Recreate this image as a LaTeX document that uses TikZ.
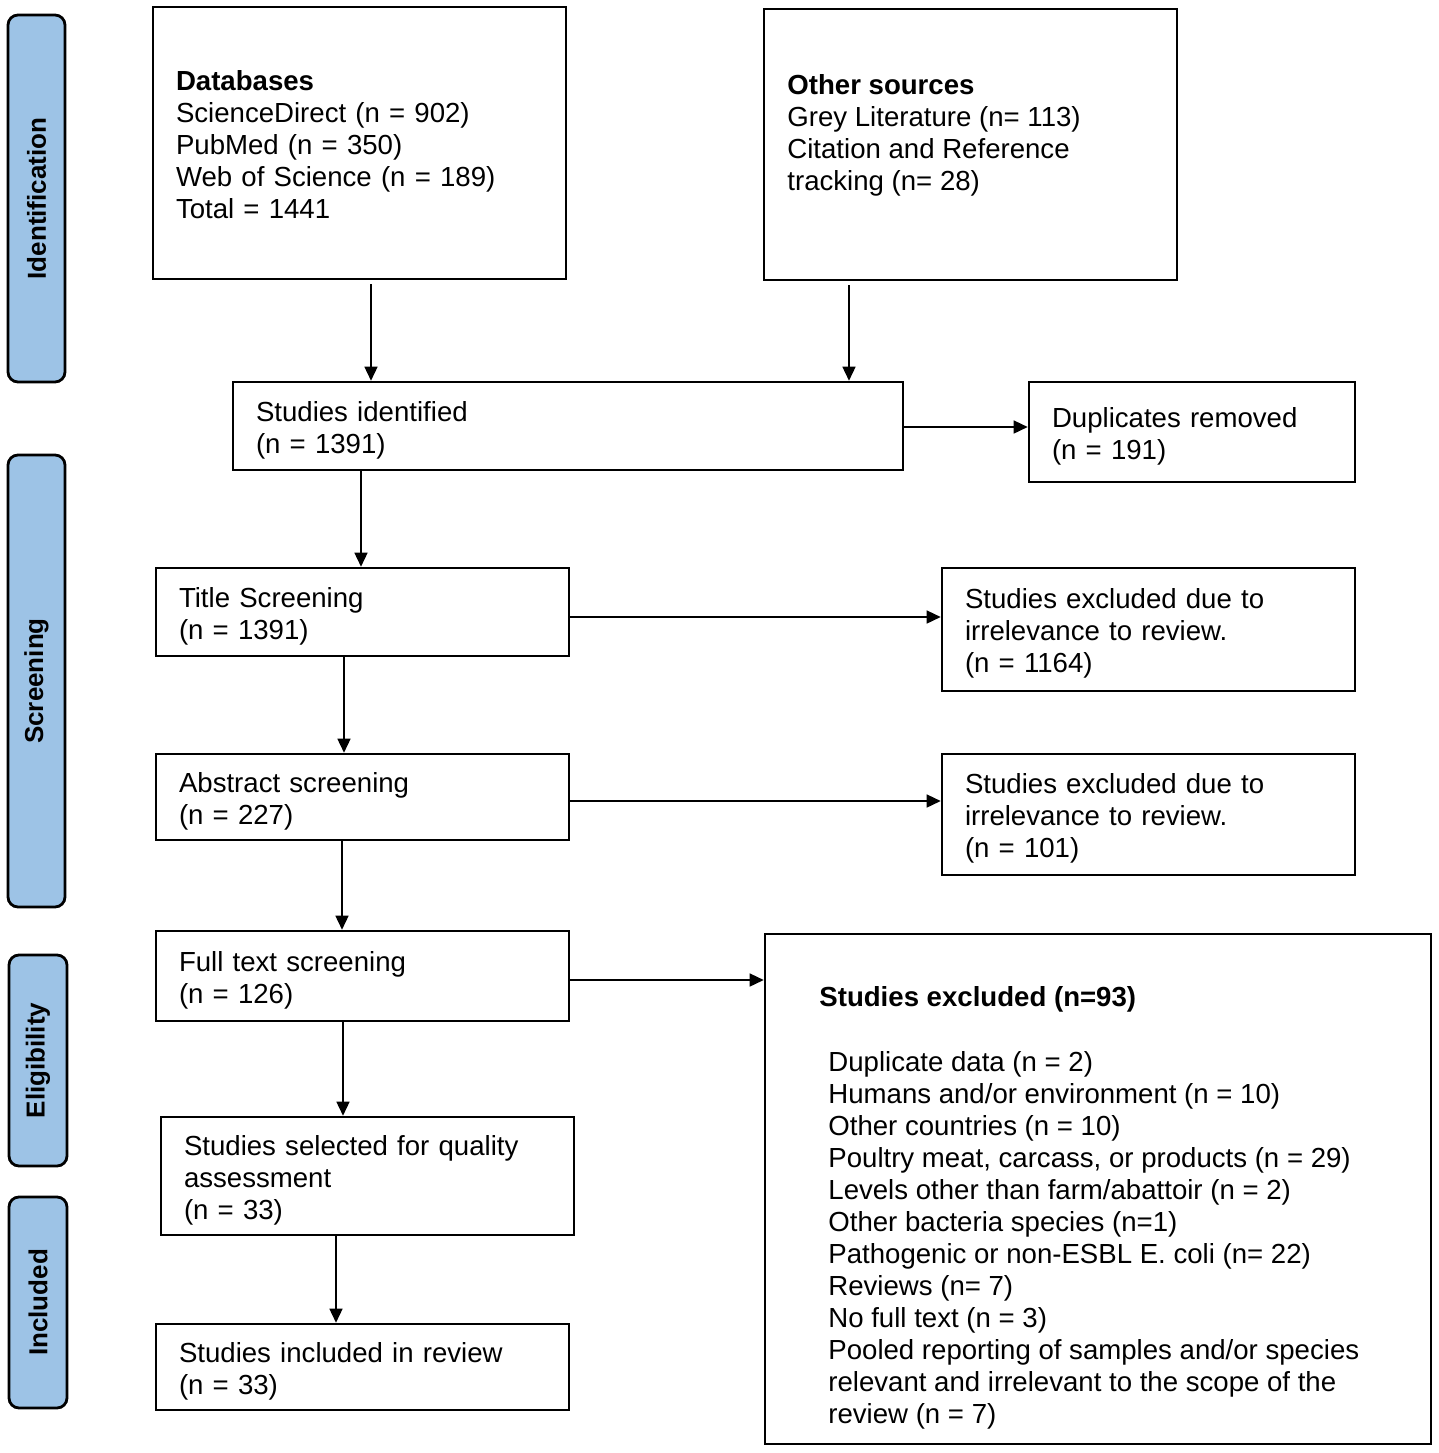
\documentclass[tikz,border=0pt]{standalone}
\usepackage{fontspec}
\setmainfont{Liberation Sans}
\usetikzlibrary{arrows.meta}
\definecolor{phaseblue}{RGB}{157,195,230}
\newcommand{\tsh}{\rule{0pt}{14pt}}
\begin{document}
\begin{tikzpicture}[x=0.5pt,y=-0.5pt,
  box/.style={draw, line width=1.3pt, inner xsep=11.5pt, inner ysep=0pt, align=left,
    font=\fontsize{13.8}{16}\selectfont},
  plain/.style={inner sep=0pt, align=left, font=\fontsize{13.8}{16}\selectfont},
  phase/.style={draw, line width=1.4pt, rounded corners=5pt, fill=phaseblue, rotate=90,
    inner sep=0pt, font=\bfseries\fontsize{13}{15}\selectfont},
  arr/.style={-{Triangle[length=7pt,width=6.5pt]}, line width=0.75pt}]
\useasboundingbox (0,0) rectangle (1439,1453);

% phase bars
\node[phase, minimum width=183.5pt, minimum height=28.5pt] (p1) at (36.5,198.5) {Identification};
\node[phase, minimum width=226pt, minimum height=28.5pt] (p2) at (36.5,681) {Screening};
\node[phase, minimum width=105.5pt, minimum height=29pt] (p3) at (38,1060.5) {Eligibility};
\node[phase, minimum width=105.5pt, minimum height=29pt] (p4) at (38,1302.5) {Included};

% boxes
\node[box, minimum width=206.5pt, minimum height=136pt, text width=183.5pt] (db) at (359.5,143)
  {\rule{0pt}{12pt}\textbf{Databases}\\ScienceDirect (n = 902)\\PubMed (n = 350)\\Web of Science (n = 189)\\Total = 1441};
\node[box, minimum width=206.5pt, minimum height=135.5pt] (oth) at (970.5,144.5) {};
\node[plain, anchor=west] (othtxt) at (787,135)
  {\textbf{Other sources}\\Grey Literature (n= 113)\\Citation and Reference\\tracking (n= 28)};
\node[box, minimum width=335pt, minimum height=44pt, text width=312pt] (ident) at (568,426)
  {\tsh Studies identified\\(n = 1391)};
\node[box, minimum width=163pt, minimum height=50pt, text width=140pt] (dup) at (1192,432)
  {\tsh Duplicates removed\\(n = 191)};
\node[box, minimum width=206.5pt, minimum height=44pt, text width=183.5pt] (title) at (362.5,612)
  {\tsh Title Screening\\(n = 1391)};
\node[box, minimum width=206.5pt, minimum height=61.5pt, text width=183.5pt] (ex1) at (1148.5,629.5)
  {\tsh Studies excluded due to\\irrelevance to review.\\(n = 1164)};
\node[box, minimum width=206.5pt, minimum height=43pt, text width=183.5pt] (abs) at (362.5,797)
  {\tsh Abstract screening\\(n = 227)};
\node[box, minimum width=206.5pt, minimum height=60.5pt, text width=183.5pt] (ex2) at (1148.5,814.5)
  {\tsh Studies excluded due to\\irrelevance to review.\\(n = 101)};
\node[box, minimum width=206.5pt, minimum height=45pt, text width=183.5pt] (full) at (362.5,976)
  {\tsh Full text screening\\(n = 126)};
\node[box, minimum width=333pt, minimum height=255pt] (ex3) at (1098,1189) {};
\node[plain, anchor=west, font=\bfseries\fontsize{13.8}{16}\selectfont] (ex3title) at (819,999)
  {Studies excluded (n=93)};
\node[plain, anchor=west] (ex3list) at (828,1240)
  {Duplicate data (n = 2)\\Humans and/or environment (n = 10)\\Other countries (n = 10)\\
   Poultry meat, carcass, or products (n = 29)\\Levels other than farm/abattoir (n = 2)\\
   Other bacteria species (n=1)\\Pathogenic or non-ESBL E. coli (n= 22)\\Reviews (n= 7)\\
   No full text (n = 3)\\Pooled reporting of samples and/or species\\
   relevant and irrelevant to the scope of the\\review (n = 7)};
\node[box, minimum width=206.5pt, minimum height=59pt, text width=183.5pt] (qual) at (367.5,1176)
  {\tsh Studies selected for quality\\assessment\\(n = 33)};
\node[box, minimum width=206.5pt, minimum height=43pt, text width=183.5pt] (incl) at (362.5,1367)
  {\tsh Studies included in review\\(n = 33)};

% helper coordinates
\coordinate (xa) at (371,0);
\coordinate (xb) at (849,0);
\coordinate (xc) at (361,0);
\coordinate (xd) at (344,0);
\coordinate (xe) at (342,0);
\coordinate (xf) at (343,0);
\coordinate (xg) at (336,0);
\coordinate (ya) at (0,427);
\coordinate (yb) at (0,617);
\coordinate (yc) at (0,801);
\coordinate (yd) at (0,980);

% connectors
\draw[arr, shorten <=2pt] (db.south -| xa) -- (ident.north -| xa);
\draw[arr, shorten <=2pt] (oth.south -| xb) -- (ident.north -| xb);
\draw[arr] (ident.east |- ya) -- (dup.west |- ya);
\draw[arr] (ident.south -| xc) -- (title.north -| xc);
\draw[arr] (title.east |- yb) -- (ex1.west |- yb);
\draw[arr] (title.south -| xd) -- (abs.north -| xd);
\draw[arr] (abs.east |- yc) -- (ex2.west |- yc);
\draw[arr] (abs.south -| xe) -- (full.north -| xe);
\draw[arr] (full.east |- yd) -- (ex3.west |- yd);
\draw[arr] (full.south -| xf) -- (qual.north -| xf);
\draw[arr] (qual.south -| xg) -- (incl.north -| xg);
\end{tikzpicture}
\end{document}
